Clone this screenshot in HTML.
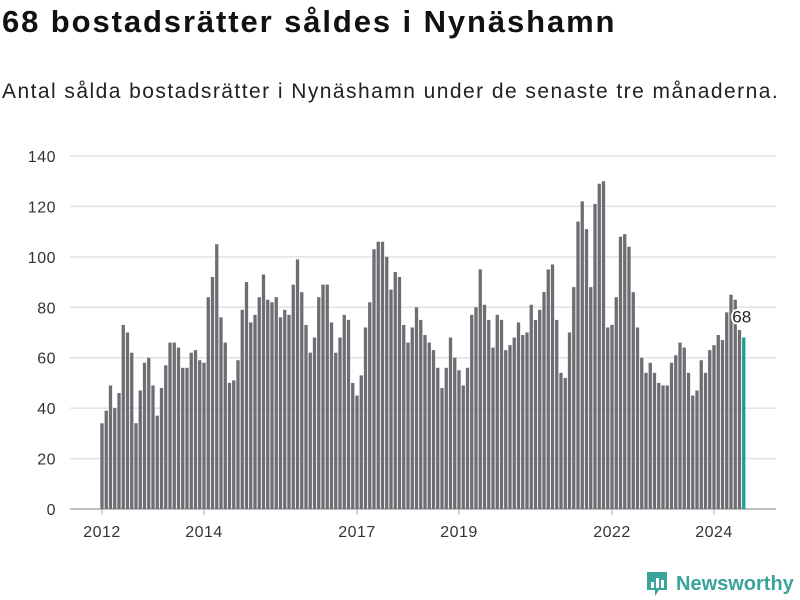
<!DOCTYPE html>
<html><head><meta charset="utf-8"><style>
body{margin:0;background:#fff;font-family:"Liberation Sans",sans-serif;}
#wrap{position:relative;width:800px;height:600px;overflow:hidden;}
h1{position:absolute;left:2px;top:4px;margin:0;font-size:31px;font-weight:bold;color:#111;letter-spacing:1.9px;}
p.sub{position:absolute;left:2px;top:80px;margin:0;font-size:21px;color:#222;letter-spacing:1.45px;}
</style></head><body>
<div id="wrap">
<h1>68 bostadsrätter såldes i Nynäshamn</h1>
<p class="sub">Antal sålda bostadsrätter i Nynäshamn under de senaste tre månaderna.</p>
<svg id="chart" width="800" height="600" style="position:absolute;left:0;top:0"></svg>
<div style="position:absolute;left:645px;top:570px;display:flex;align-items:center;">
<svg width="24" height="28"><path d="M2 2h20v18h-8l-4 6v-6H2z" fill="#3aa39a"/><rect x="6" y="12" width="3" height="6" fill="#fff"/><rect x="11" y="8" width="3" height="10" fill="#fff"/><rect x="16" y="10" width="3" height="8" fill="#fff"/></svg>
<span style="margin-left:7px;font-size:20px;font-weight:bold;color:#3aa39a;">Newsworthy</span>
</div>
</div>
<script>
const values=[34,39,49,40,46,73,70,62,34,47,58,60,49,37,48,57,66,66,64,56,56,62,63,59,58,84,92,105,76,66,50,51,59,79,90,74,77,84,93,83,82,84,76,79,77,89,99,86,73,62,68,84,89,89,74,62,68,77,75,50,45,53,72,82,103,106,106,100,87,94,92,73,66,72,80,75,69,66,63,56,48,56,68,60,55,49,56,77,80,95,81,75,64,77,75,63,65,68,74,69,70,81,75,79,86,95,97,75,54,52,70,88,114,122,111,88,121,129,130,72,73,84,108,109,104,86,72,60,54,58,54,50,49,49,58,61,66,64,54,45,47,59,54,63,65,69,67,78,85,83,71,68];
const startYear=2012;
const yTicks=[0,20,40,60,80,100,120,140];
const xTickYears=[2012,2014,2017,2019,2022,2024];
const NS="http://www.w3.org/2000/svg";
const svg=document.getElementById('chart');
const x0=102,step=4.25,bw=3.3;
const y=v=>509-v*(353/140);
const x=i=>x0+i*step;
function mk(t,a){const e=document.createElementNS(NS,t);for(const k in a)e.setAttribute(k,a[k]);svg.appendChild(e);return e;}
yTicks.forEach(t=>{
  const l=mk('line',{x1:70,x2:776,y1:y(t),y2:y(t),stroke:t===0?'#aaa':'#e2e2e2','stroke-width':1.5});
  
  
  const tx=mk('text',{x:56,y:y(t)+6,'text-anchor':'end','font-size':16,fill:'#333','font-family':'Liberation Sans, sans-serif','letter-spacing':0.5});
  tx.textContent=t;
  
  
});
values.forEach((v,i)=>{
  const last=i===values.length-1;
  const r=mk('rect',{x:x(i)-bw/2,y:y(v),width:bw,height:509-y(v),fill:last?'#1a9e96':'#6e6d73'});
  
  
});
xTickYears.forEach(yr=>{
  const xi=x((yr-startYear)*12);
  const tl=mk('line',{x1:xi,x2:xi,y1:509,y2:515,stroke:'#aaa','stroke-width':1});
  
  
  const tx=mk('text',{x:xi,y:537,'text-anchor':'middle','font-size':16,fill:'#333','font-family':'Liberation Sans, sans-serif','letter-spacing':0.5});
  tx.textContent=yr;
  
  
});
const li=values.length-1;
const lbl=mk('text',{x:x(li)-2,y:y(values[li])-15,'text-anchor':'middle','font-size':17,fill:'#222',stroke:'#fff','stroke-width':4,'paint-order':'stroke','font-family':'Liberation Sans, sans-serif'});
lbl.textContent=values[li];


</script>
</body></html>
